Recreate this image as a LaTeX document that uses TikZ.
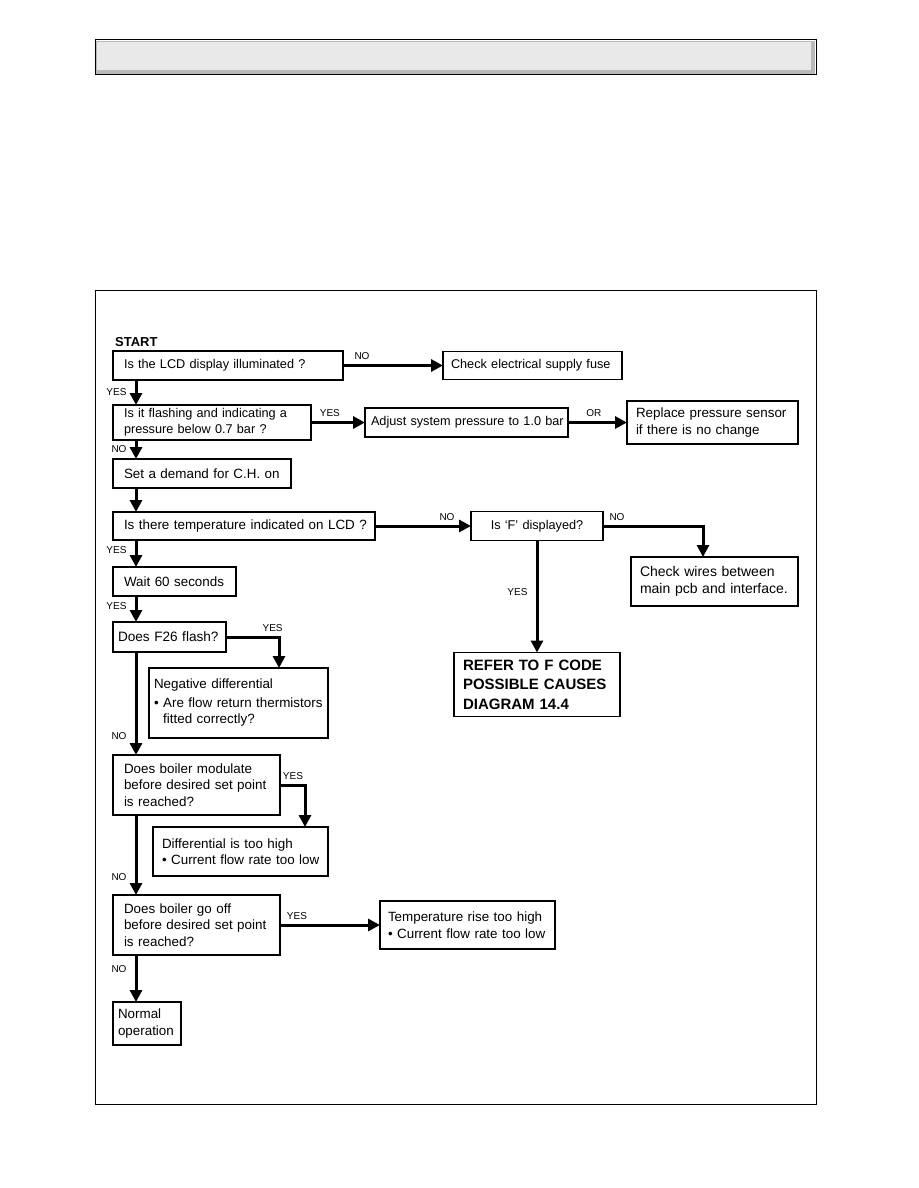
\documentclass[tikz,border=0pt]{standalone}
\usepackage{fontspec}
\setmainfont{Liberation Sans}
\usetikzlibrary{arrows.meta,positioning}

\begin{document}
\begin{tikzpicture}[x=1pt, y=-1pt,
  box/.style={draw, line width=1.8pt, fill=white, align=left, anchor=north west,
              outer sep=0pt, inner ysep=2pt, font=\fontsize{13.4}{16.5}\selectfont},
  sbox/.style={box, font=\fontsize{12.7}{16}\selectfont},
  lbl/.style={font=\fontsize{10}{12}\selectfont, inner sep=1pt},
  arr/.style={-{Triangle[length=12pt,width=12pt]}, line width=3pt}]
\path[use as bounding box, fill=white] (0,0) rectangle (918,1188);
% title bar and frame
\fill[gray!55] (96,41) rectangle (815,74);
\fill[gray!17] (97,42) rectangle (811,70);
\draw[line width=1pt] (95,40) rectangle (816,75);
\draw[line width=0.9pt] (95,290) rectangle (816,1104);

\node[font=\bfseries\fontsize{13}{15}\selectfont, anchor=south west, inner sep=0pt] (start) at (115,347) {START};
\node[sbox, inner xsep=11pt, text width=208pt, minimum height=29pt] (lcd) at (113,351) {\mbox{Is the LCD display illuminated ?}};
\node[sbox, right=100pt of lcd, inner xsep=8pt, text width=163pt, minimum height=28pt] (fuse) {\mbox{Check electrical supply fuse}};
\node[sbox, below=25pt of lcd.south west, anchor=north west, inner xsep=11pt, text width=176pt, minimum height=35pt] (flash) {\mbox{Is it flashing and indicating a}\\\mbox{pressure below 0.7 bar ?}};
\node[sbox, right=54pt of flash, inner xsep=6pt, text width=191pt, minimum height=29pt] (adjust) {\mbox{Adjust system pressure to 1.0 bar}};
\node[box, right=59pt of adjust, inner xsep=9pt, text width=153pt, minimum height=43pt] (sensor) {\mbox{Replace pressure sensor}\\\mbox{if there is no change}};
\node[box, below=19pt of flash.south west, anchor=north west, inner xsep=11pt, text width=156pt, minimum height=29pt] (demand) {\mbox{Set a demand for C.H. on}};
\node[box, below=24pt of demand.south west, anchor=north west, inner xsep=11pt, text width=240pt, minimum height=28pt] (temp) {\mbox{Is there temperature indicated on LCD ?}};
\node[sbox, right=96pt of temp, align=center, inner xsep=9pt, text width=114pt, minimum height=29pt] (fdisp) {\mbox{Is `F' displayed?}};
\node[box, font=\fontsize{14}{17.5}\selectfont, inner xsep=9pt, text width=149pt, minimum height=49pt] (wires) at (631,557) {\mbox{Check wires between}\\\mbox{main pcb and interface.}};
\node[box, below=112pt of fdisp, font=\bfseries\fontsize{15}{19.5}\selectfont, inner xsep=9pt, text width=148pt, minimum height=64pt] (fcode) {\mbox{REFER TO F CODE}\\\mbox{POSSIBLE CAUSES}\\\mbox{DIAGRAM 14.4}};
\node[box, below=27pt of temp.south west, anchor=north west, inner xsep=11pt, text width=101pt, minimum height=29pt] (wait) {\mbox{Wait 60 seconds}};
\node[box, below=26pt of wait.south west, anchor=north west, font=\fontsize{13.6}{16.5}\selectfont, inner xsep=5pt, text width=103pt, minimum height=30pt] (f26) {\mbox{Does F26 flash?}};
\node[box, inner xsep=5pt, text width=169pt, minimum height=70pt] (negdiff) at (149,668) {\mbox{Negative differential}\\[2pt]\mbox{\textbullet\ Are flow return thermistors}\\\mbox{\phantom{\textbullet\ }fitted correctly?}};
\node[box, below=103pt of f26.south west, anchor=north west, inner xsep=11pt, text width=145pt, minimum height=60pt] (modul) {\mbox{Does boiler modulate}\\\mbox{before desired set point}\\\mbox{is reached?}};
\node[box, inner xsep=9pt, text width=157pt, minimum height=49pt] (diff) at (153,827) {\mbox{Differential is too high}\\\mbox{\textbullet\ Current flow rate too low}};
\node[box, below=80pt of modul.south west, anchor=north west, inner xsep=11pt, text width=145pt, minimum height=60pt] (gooff) {\mbox{Does boiler go off}\\\mbox{before desired set point}\\\mbox{is reached?}};
\node[box, right=100pt of gooff, inner xsep=8pt, text width=159pt, minimum height=48pt] (rise) {\mbox{Temperature rise too high}\\\mbox{\textbullet\ Current flow rate too low}};
\node[box, below=47pt of gooff.south west, anchor=north west, inner xsep=5pt, text width=58pt, minimum height=43pt] (normal) {\mbox{Normal}\\\mbox{operation}};

\coordinate (spine) at (136,0);
\coordinate (dropa) at (279,0);
\coordinate (dropb) at (305,0);
\coordinate (dropc) at (703,0);

\draw[arr] (lcd) -- node[lbl, above=3pt, pos=0.19] {NO} (fuse);
\draw[arr] (lcd.south -| spine) -- node[lbl, left=7pt, pos=0.48] {YES} (flash.north -| spine);
\draw[arr] (flash) -- node[lbl, above=3pt, pos=0.35] {YES} (adjust);
\draw[arr] (adjust) -- node[lbl, above=3pt, pos=0.44] {OR} (sensor);
\draw[arr] (flash.south -| spine) -- node[lbl, left=7pt, pos=0.47] {NO} (demand.north -| spine);
\draw[arr] (demand.south -| spine) -- (temp.north -| spine);
\draw[arr] (temp) -- node[lbl, above=3pt, pos=0.75] {NO} (fdisp);
\draw[arr] (fdisp.east) -| node[lbl, above=3pt, pos=0.07] {NO} (wires.north -| dropc);
\draw[arr] (fdisp) -- node[lbl, left=7pt, pos=0.46] {YES} (fcode);
\draw[arr] (temp.south -| spine) -- node[lbl, left=7pt, pos=0.37] {YES} (wait.north -| spine);
\draw[arr] (wait.south -| spine) -- node[lbl, left=7pt, pos=0.38] {YES} (f26.north -| spine);
\draw[arr] (f26.east) -| node[lbl, above=3pt, pos=0.44] {YES} (negdiff.north -| dropa);
\draw[arr] (f26.south -| spine) -- node[lbl, left=7pt, pos=0.82] {NO} (modul.north -| spine);
\draw[arr] (modul.east) -| node[lbl, above=3pt, pos=0.26] {YES} (diff.north -| dropb);
\draw[arr] (modul.south -| spine) -- node[lbl, left=7pt, pos=0.78] {NO} (gooff.north -| spine);
\draw[arr] (gooff) -- node[lbl, above=3pt, pos=0.17] {YES} (rise);
\draw[arr] (gooff.south -| spine) -- node[lbl, left=7pt, pos=0.3] {NO} (normal.north -| spine);
\end{tikzpicture}
\end{document}
